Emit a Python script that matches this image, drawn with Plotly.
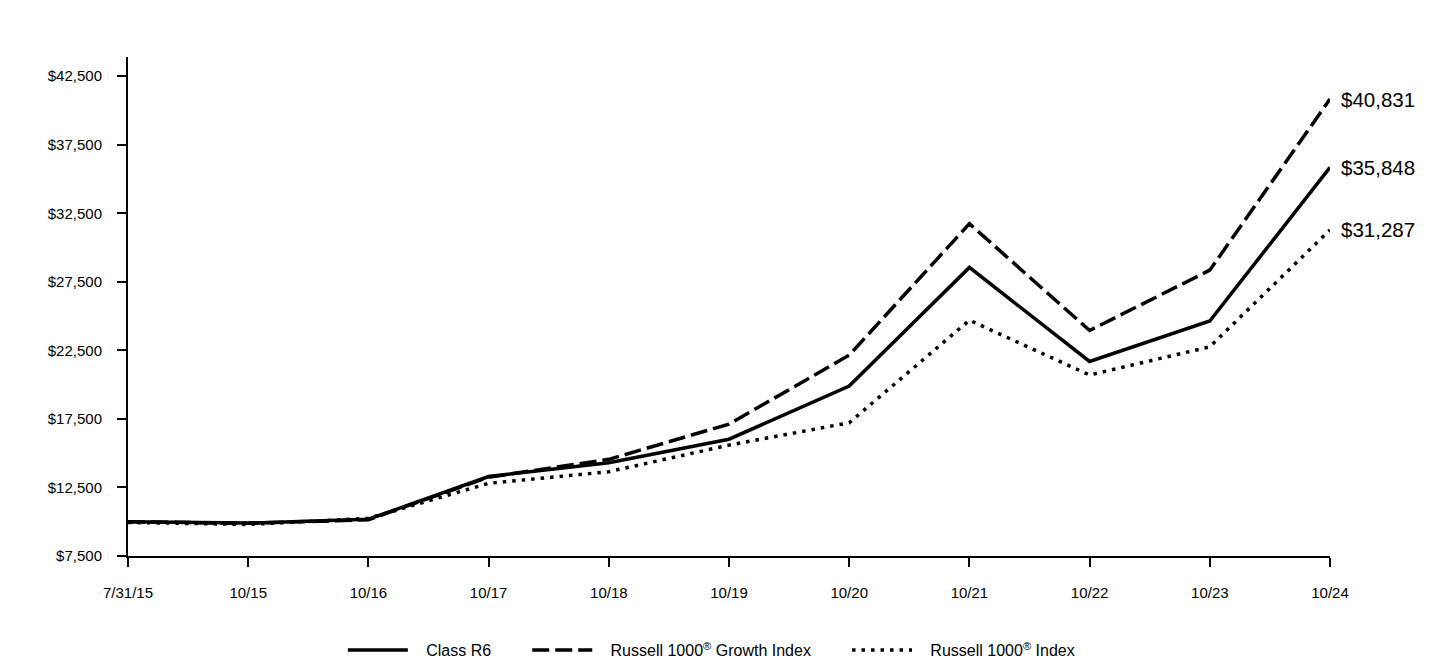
import plotly.graph_objects as go

dates = ["7/31/15", "10/15", "10/16", "10/17", "10/18", "10/19", "10/20", "10/21", "10/22", "10/23", "10/24"]
class_r6 = [10000, 9900, 10180, 13300, 14300, 16020, 19900, 28550, 21690, 24640, 35848]
growth = [10000, 9880, 10150, 13250, 14550, 17120, 22150, 31740, 23950, 28350, 40831]
index = [9950, 9800, 10250, 12800, 13650, 15590, 17220, 24700, 20700, 22760, 31287]
end_labels = ["$40,831", "$35,848", "$31,287"]
y_ticks = [7500, 12500, 17500, 22500, 27500, 32500, 37500, 42500]
series_names = ["Class R6", "Russell 1000<sup>®</sup> Growth Index", "Russell 1000<sup>®</sup> Index"]

FONT = "Liberation Sans, Arial, sans-serif"
PAD_L = "\u00a0\u00a0\u00a0"
PAD_R = "\u00a0" * 7

fig = go.Figure()
fig.add_trace(go.Scatter(x=dates, y=class_r6, mode="lines", name=PAD_L + series_names[0] + PAD_R,
                         line=dict(color="black", width=3.5)))
fig.add_trace(go.Scatter(x=dates, y=growth, mode="lines", name=PAD_L + series_names[1] + PAD_R,
                         line=dict(color="black", width=3.5, dash="17px,6px")))
fig.add_trace(go.Scatter(x=dates, y=index, mode="lines", name=PAD_L + series_names[2],
                         line=dict(color="black", width=3.5, dash="3.5px,6px")))

for val, txt in zip([growth[-1], class_r6[-1], index[-1]], end_labels):
    fig.add_annotation(x=dates[-1], y=val, text=txt, showarrow=False, xanchor="left",
                       xshift=9, font=dict(family=FONT, size=20.5, color="black"))

fig.update_layout(
    width=1440, height=660,
    margin=dict(l=128, r=110, t=57, b=104, autoexpand=False),
    plot_bgcolor="white", paper_bgcolor="white",
    font=dict(family=FONT, color="black"),
    showlegend=True,
    legend=dict(orientation="h", x=0.494, xref="container", xanchor="center",
                y=0.015, yref="container", yanchor="middle",
                font=dict(family=FONT, size=16, color="black"), itemwidth=60,
                tracegroupgap=0),
)
fig.update_xaxes(
    type="category", range=[0, 10], showgrid=False, zeroline=False,
    showline=True, linecolor="black", linewidth=2,
    ticks="outside", ticklen=9, tickwidth=2, tickcolor="black",
    tickfont=dict(family=FONT, size=15, color="black"), ticklabelstandoff=13,
)
fig.update_yaxes(
    range=[7500, 43900], tickvals=y_ticks, ticktext=[f"${v:,}" for v in y_ticks],
    showgrid=False, zeroline=False, showline=True, linecolor="black", linewidth=2,
    ticks="outside", ticklen=9, tickwidth=2, tickcolor="black",
    tickfont=dict(family=FONT, size=15, color="black"), ticklabelstandoff=12,
)

fig.write_html("out.html")
